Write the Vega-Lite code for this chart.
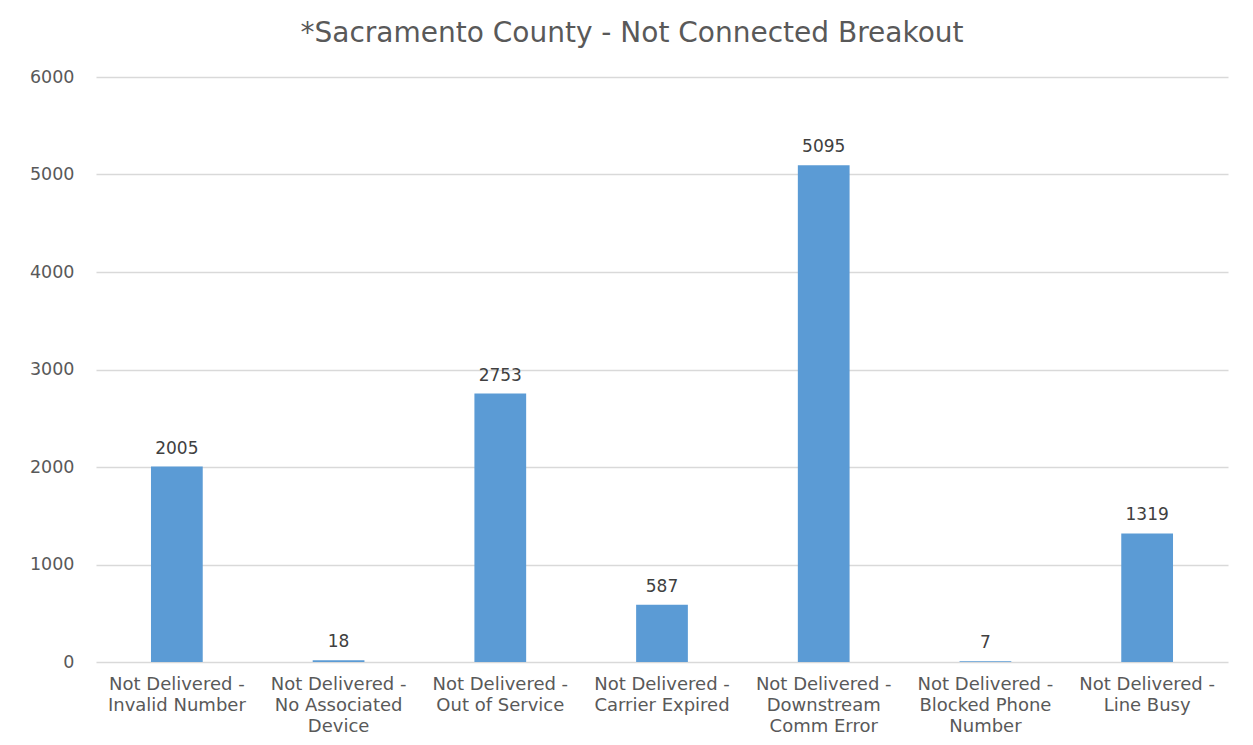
{
  "$schema": "https://vega.github.io/schema/vega-lite/v6.json",
  "autosize": "none",
  "width": 1132,
  "height": 585,
  "padding": {"left": 96, "top": 77, "right": 25, "bottom": 83},
  "background": "white",
  "config": {"view": {"stroke": null}, "font": "DejaVu Sans"},
  "title": {
    "text": "*Sacramento County - Not Connected Breakout",
    "fontSize": 28,
    "fontWeight": "normal",
    "color": "#595959",
    "anchor": "middle",
    "dx": -30,
    "offset": 20,
    "font": "DejaVu Sans"
  },
  "data": {
    "values": [
      {"category": "Not Delivered -|Invalid Number", "count": 2005},
      {"category": "Not Delivered -|No Associated|Device", "count": 18},
      {"category": "Not Delivered -|Out of Service", "count": 2753},
      {"category": "Not Delivered -|Carrier Expired", "count": 587},
      {"category": "Not Delivered -|Downstream|Comm Error", "count": 5095},
      {"category": "Not Delivered -|Blocked Phone|Number", "count": 7},
      {"category": "Not Delivered -|Line Busy", "count": 1319}
    ]
  },
  "encoding": {
    "x": {
      "field": "category",
      "type": "nominal",
      "sort": null,
      "scale": {"paddingInner": 0.68, "paddingOuter": 0.34},
      "axis": {
        "title": null,
        "labelAngle": 0,
        "labelExpr": "split(datum.label, '|')",
        "labelFont": "DejaVu Sans",
        "labelFontSize": 18,
        "labelColor": "#595959",
        "labelLineHeight": 21,
        "labelPadding": 13,
        "labelLimit": 0,
        "ticks": false,
        "domain": false
      }
    },
    "y": {
      "field": "count",
      "type": "quantitative",
      "scale": {"domain": [0, 6000]},
      "axis": {
        "title": null,
        "values": [0, 1000, 2000, 3000, 4000, 5000, 6000],
        "format": "d",
        "labelFont": "DejaVu Sans",
        "labelFontSize": 17.5,
        "labelColor": "#595959",
        "labelPadding": 22,
        "ticks": false,
        "domain": false,
        "gridColor": "#d9d9d9",
        "gridWidth": 1.5
      }
    }
  },
  "layer": [
    {"mark": {"type": "bar", "color": "#5B9BD5"}},
    {
      "mark": {"type": "text", "dy": -13, "fontSize": 17, "font": "DejaVu Sans", "color": "#404040", "baseline": "alphabetic"},
      "encoding": {"text": {"field": "count", "type": "quantitative", "format": "d"}}
    }
  ]
}
